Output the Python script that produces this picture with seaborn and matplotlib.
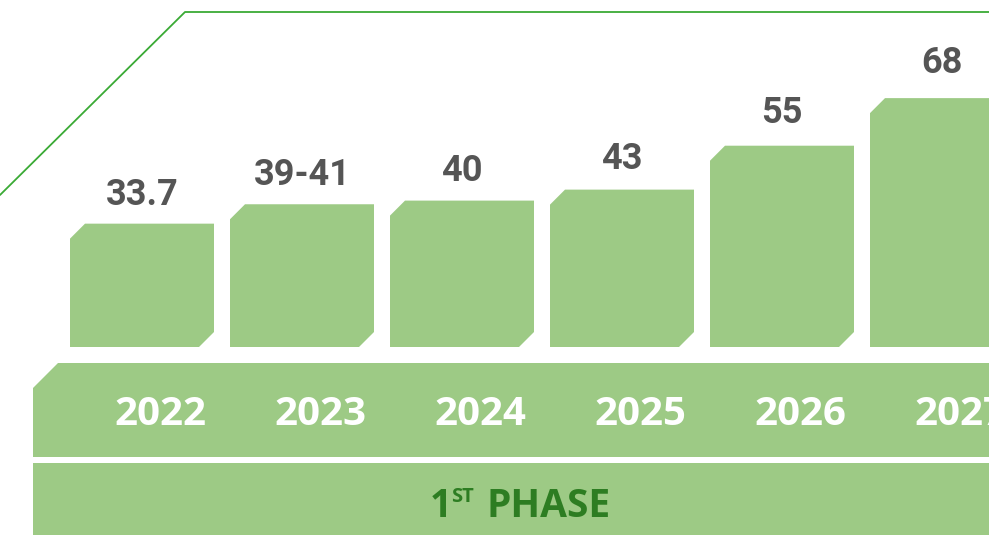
import matplotlib
matplotlib.use("Agg")
import matplotlib.pyplot as plt
import seaborn as sns
import pandas as pd
from matplotlib.patches import Polygon
from matplotlib.transforms import Affine2D

# data
years = ["2022", "2023", "2024", "2025", "2026", "2027"]
values = [33.7, 39, 40, 43, 55, 68]
value_labels = ["33.7", "39-41", "40", "43", "55", "68"]

W, H = 989, 535
BAR_GREEN = "#9dca85"
LINE_GREEN = "#3aaa35"
DARK_GREEN = "#2d7d22"
GREY = "#555555"

# layout in pixels
PITCH = 160.0      # px between bar centres
FIRST_X = 142.0    # px centre of first bar
BASE_Y = 347.0     # px of value 0
PX_PER_UNIT = 3.66

sns.set_theme(style="white")
fig = plt.figure(figsize=(W / 100, H / 100), dpi=100)
ax = fig.add_axes([0, 0, 1, 1])

# helper transform: pixel coords with origin top-left
px = Affine2D().scale(1 / W, -1 / H).translate(0, 1) + fig.transFigure

df = pd.DataFrame({"year": years, "value": values})
sns.barplot(data=df, x="year", y="value", color=BAR_GREEN, saturation=1,
            width=0.9, ax=ax, zorder=2)

ax.set_xlim(-FIRST_X / PITCH, (W - FIRST_X) / PITCH)
ax.set_ylim((BASE_Y - H) / PX_PER_UNIT, BASE_Y / PX_PER_UNIT)
ax.axis("off")

# chamfered bars (top-left and bottom-right corners cut)
cx = 15 / PITCH
cy = 15 / PX_PER_UNIT
for p in list(ax.patches):
    x0, y0 = p.get_x(), p.get_y()
    w, h = p.get_width(), p.get_height()
    pts = [(x0, y0), (x0 + w - cx, y0), (x0 + w, y0 + cy), (x0 + w, y0 + h),
           (x0 + cx, y0 + h), (x0, y0 + h - cy)]
    ax.add_patch(Polygon(pts, closed=True, facecolor=BAR_GREEN, edgecolor="none", zorder=2))
    p.remove()

# value labels (gap above the bar grows a little with the value)
for i, (v, lab) in enumerate(zip(values, value_labels)):
    gap_px = 12 + 0.19 * v
    ax.annotate(lab, (i, v), xytext=(0, gap_px * 0.72), textcoords="offset points",
                ha="center", va="baseline", fontsize=26, fontweight="bold",
                color=GREY, family="Roboto")

# outline line at the top
ax.add_line(plt.Line2D([0, 185, W + 5], [195, 12, 12], transform=px,
                       color=LINE_GREEN, lw=1.3, clip_on=False))

# year band
ax.add_patch(Polygon([(33, 388), (58, 363), (W + 5, 363), (W + 5, 457), (33, 457)],
                     closed=True, transform=px, facecolor=BAR_GREEN, edgecolor="none"))
for i, yr in enumerate(years):
    ax.text(i + 18 / PITCH, (BASE_Y - 425) / PX_PER_UNIT, yr, ha="center", va="baseline",
            fontsize=29, fontweight="bold", color="white", family="Open Sans")

# phase band
ax.add_patch(Polygon([(33, 463), (W + 5, 463), (W + 5, H + 5), (33, H + 5)],
                     closed=True, transform=px, facecolor=BAR_GREEN, edgecolor="none"))
ax.text(430, 517, "1", transform=px, ha="left", va="baseline", fontsize=28,
        fontweight="bold", color=DARK_GREEN, family="Open Sans")
ax.text(451, 502, "ST", transform=px, ha="left", va="baseline", fontsize=14.5,
        fontweight="bold", color=DARK_GREEN, family="Open Sans")
ax.text(487, 517, "PHASE", transform=px, ha="left", va="baseline", fontsize=28,
        fontweight="bold", color=DARK_GREEN, family="Open Sans")

fig.savefig("out.png", dpi=100)
